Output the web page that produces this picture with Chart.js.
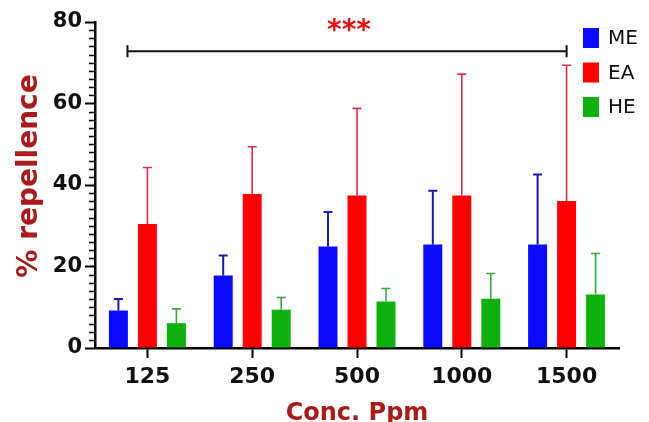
<!DOCTYPE html>
<html>
<head>
<meta charset="utf-8">
<script src="https://cdn.jsdelivr.net/npm/chart.js@4.4.1/dist/chart.umd.min.js"></script>
<style>
  html, body { margin: 0; padding: 0; background: #fff; }
  canvas { display: block; }
</style>
</head>
<body>
<canvas id="chart" width="649" height="422"></canvas>
<script>
// データ
const categories = ['125', '250', '500', '1000', '1500'];
const seriesNames = ['ME', 'EA', 'HE'];
const meValues = [9.2, 17.8, 24.9, 25.4, 25.4];
const meErrors = [2.8, 4.9, 8.5, 13.2, 17.2];
const eaValues = [30.4, 37.8, 37.4, 37.4, 36.1];
const eaErrors = [13.9, 11.6, 21.4, 29.8, 33.3];
const heValues = [6.1, 9.4, 11.4, 12.1, 13.1];
const heErrors = [3.5, 3.0, 3.2, 6.2, 10.1];
const yTicks = [0, 20, 40, 60, 80];

const barColors = ['#0a0aff', '#ff0000', '#10b010'];
const errColors = ['#1c1ca8', '#d8304a', '#3ca83c'];
const titleColor = '#a81c1c';
const fontFamily = '"DejaVu Sans", sans-serif';

// エラーバー・凡例・注釈
const extras = {
  id: 'extras',
  afterDatasetsDraw(chart) {
    const ctx = chart.ctx;
    const yScale = chart.scales.y;
    const xScale = chart.scales.x;
    const errs = [meErrors, eaErrors, heErrors];

    // error bars (upper only)
    chart.data.datasets.forEach((ds, i) => {
      const meta = chart.getDatasetMeta(i);
      ctx.save();
      ctx.strokeStyle = errColors[i];
      ctx.lineWidth = i === 0 ? 2 : 1.6;
      meta.data.forEach((bar, j) => {
        const top = yScale.getPixelForValue(ds.data[j] + errs[i][j]);
        ctx.beginPath();
        ctx.moveTo(bar.x, bar.y);
        ctx.lineTo(bar.x, top);
        ctx.moveTo(bar.x - 4.5, top);
        ctx.lineTo(bar.x + 4.5, top);
        ctx.stroke();
      });
      ctx.restore();
    });
  },
  afterDraw(chart) {
    const ctx = chart.ctx;
    const yScale = chart.scales.y;
    const xScale = chart.scales.x;
    const area = chart.chartArea;

    // minor ticks
    ctx.save();
    ctx.strokeStyle = '#000';
    ctx.lineWidth = 1.5;
    for (let v = 0; v <= 80; v += 2) {
      if (v % 20 === 0) continue;
      const py = Math.round(yScale.getPixelForValue(v)) + 0.5;
      ctx.beginPath();
      ctx.moveTo(area.left - 6, py);
      ctx.lineTo(area.left, py);
      ctx.stroke();
    }
    ctx.restore();

    // significance bar
    const x1 = xScale.getPixelForValue(-0.19);
    const x2 = xScale.getPixelForValue(4);
    const sy = yScale.getPixelForValue(72.8);
    ctx.save();
    ctx.strokeStyle = '#111';
    ctx.lineWidth = 2;
    ctx.beginPath();
    ctx.moveTo(x1, sy);
    ctx.lineTo(x2, sy);
    ctx.moveTo(x1, sy - 6);
    ctx.lineTo(x1, sy + 6);
    ctx.moveTo(x2, sy - 6);
    ctx.lineTo(x2, sy + 6);
    ctx.stroke();
    ctx.fillStyle = '#e01010';
    ctx.font = 'bold 28px ' + fontFamily;
    ctx.textAlign = 'center';
    ctx.textBaseline = 'alphabetic';
    ctx.fillText('***', (x1 + x2) / 2 + 2, sy - 12);
    ctx.restore();

    // legend
    ctx.save();
    ctx.font = '20px ' + fontFamily;
    ctx.textAlign = 'left';
    ctx.textBaseline = 'middle';
    seriesNames.forEach((name, i) => {
      const top = 28 + i * 34.5;
      ctx.fillStyle = barColors[i];
      ctx.fillRect(583, top, 16, 20);
      ctx.fillStyle = '#111';
      ctx.fillText(name, 608, top + 11);
    });
    ctx.restore();

    // axis titles
    ctx.save();
    ctx.fillStyle = titleColor;
    ctx.font = 'bold 28px ' + fontFamily;
    ctx.textAlign = 'center';
    ctx.textBaseline = 'middle';
    ctx.translate(30, 176);
    ctx.rotate(-Math.PI / 2);
    ctx.fillText('% repellence', 0, 0);
    ctx.restore();

    ctx.save();
    ctx.fillStyle = titleColor;
    ctx.font = 'bold 24px ' + fontFamily;
    ctx.textAlign = 'center';
    ctx.textBaseline = 'alphabetic';
    ctx.fillText('Conc. Ppm', (xScale.getPixelForValue(2)), 420);
    ctx.restore();
  }
};

const ctx = document.getElementById('chart').getContext('2d');
const chart = new Chart(ctx, {
  type: 'bar',
  data: {
    labels: categories,
    datasets: [
      { label: seriesNames[0], data: meValues, backgroundColor: barColors[0] },
      { label: seriesNames[1], data: eaValues, backgroundColor: barColors[1] },
      { label: seriesNames[2], data: heValues, backgroundColor: barColors[2] }
    ]
  },
  options: {
    responsive: false,
    animation: false,
    devicePixelRatio: 1,
    categoryPercentage: 0.83,
    barPercentage: 0.655,
    layout: { padding: { top: 22, right: 30, left: 0, bottom: 0 } },
    plugins: {
      legend: { display: false },
      tooltip: { enabled: false }
    },
    scales: {
      x: {
        afterFit: (scale) => { scale.height = 74; },
        grid: { drawOnChartArea: false, offset: false, tickLength: 10, tickWidth: 2, tickColor: '#000' },
        border: { color: '#000', width: 2.5 },
        ticks: {
          color: '#111',
          padding: 6,
          font: { family: fontFamily, size: 22, weight: 'bold' }
        }
      },
      y: {
        min: 0,
        max: 80,
        afterFit: (scale) => { scale.width = 95; },
        afterBuildTicks: (scale) => { scale.ticks = yTicks.map(v => ({ value: v })); },
        grid: { drawOnChartArea: false, tickLength: 10, tickWidth: 2, tickColor: '#000' },
        border: { color: '#000', width: 2.5 },
        ticks: {
          color: '#111',
          padding: 3,
          font: { family: fontFamily, size: 21, weight: 'bold' }
        }
      }
    }
  },
  plugins: [extras]
});
</script>
</body>
</html>
